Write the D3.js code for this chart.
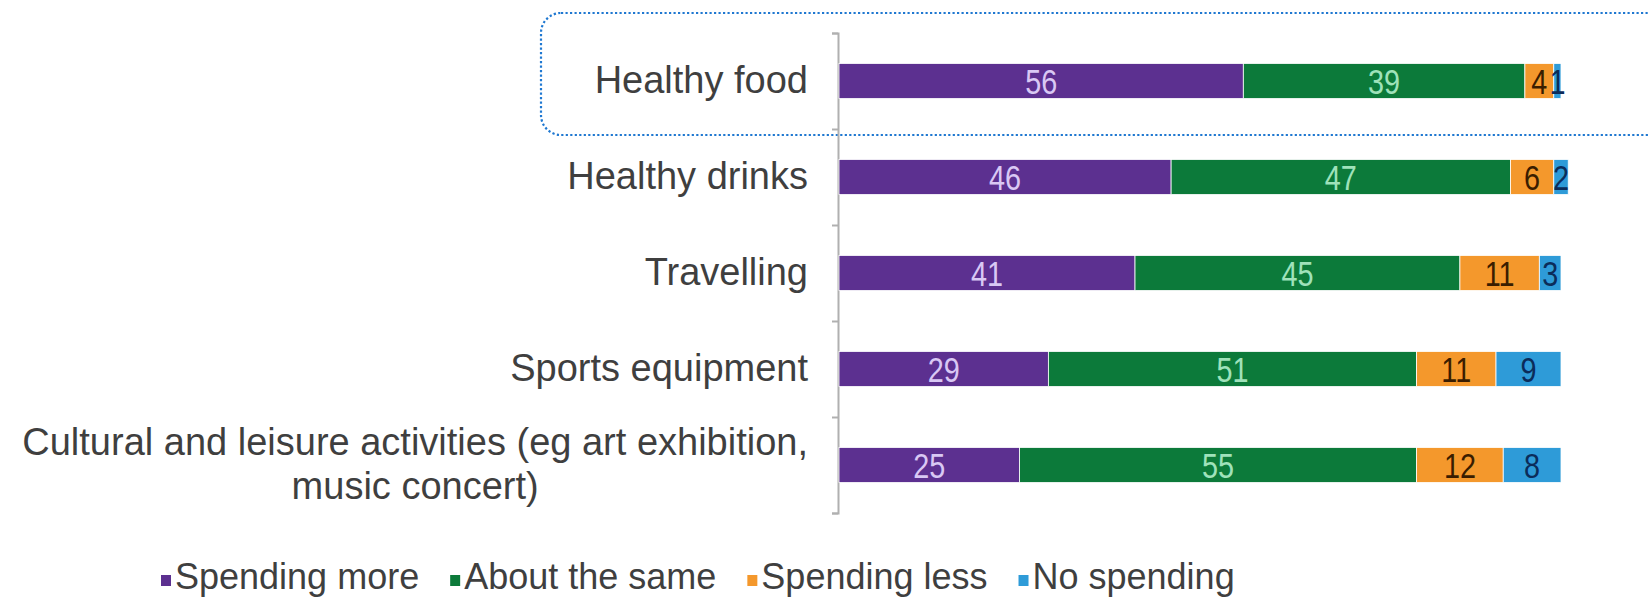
<!DOCTYPE html>
<html>
<head>
<meta charset="utf-8">
<script src="https://cdn.jsdelivr.net/npm/d3@7"></script>
<style>
    html, body { margin: 0; padding: 0; background: #fff; }
    svg { display: block; font-family: "Liberation Sans", Arial, sans-serif; }
    .axis path, .axis line { stroke: #b0b0b0; stroke-width: 2; }
    .cat-label, .legend text { fill: #3f3f3f; }
</style>
</head>
<body>
<svg id="chart" width="1650" height="597"></svg>
<script>
    // categories, top to bottom
    var categories = [
        ["Healthy food"],
        ["Healthy drinks"],
        ["Travelling"],
        ["Sports equipment"],
        ["Cultural and leisure activities (eg art exhibition,", "music concert)"]
    ];
    var seriesNames = ["Spending more", "About the same", "Spending less", "No spending"];
    var spendingMore = [56, 46, 41, 29, 25];
    var aboutSame = [39, 47, 45, 51, 55];
    var spendingLess = [4, 6, 11, 11, 12];
    var noSpending = [1, 2, 3, 9, 8];

    var barColors = ["#5c3090", "#0c7a3a", "#f4982c", "#2e9bd8"];
    var labelColors = ["#d9c8f4", "#9fe2ba", "#3a1d00", "#0b2c5a"];

    var svg = d3.select("#chart");

    var margin = { top: 33, left: 839, right: 89, bottom: 84 };
    var width = +svg.attr("width") - margin.left - margin.right;
    var plotBottom = +svg.attr("height") - margin.bottom;

    var keys = categories.map((c) => { return c.join(" "); });
    var rows = keys.map((k, i) => {
        return { key: k, lines: categories[i], values: [spendingMore[i], aboutSame[i], spendingLess[i], noSpending[i]] };
    });

    var yScale = d3.scaleBand().domain(keys).range([margin.top, plotBottom]);
    var xScale = d3.scaleLinear().domain([0, 100]).range([margin.left, margin.left + width]);
    var barHeight = yScale.bandwidth() * 0.365;

    // highlight box round the first row
    svg.append("rect")
        .attr("x", 541).attr("y", 13)
        .attr("width", 1130).attr("height", 122)
        .attr("rx", 20).attr("ry", 20)
        .attr("fill", "none")
        .attr("stroke", "#1f78d1")
        .attr("stroke-width", 2.2)
        .attr("stroke-dasharray", "2.2 2.3");

    // axis with ticks on the band edges
    var edgeScale = d3.scaleLinear().domain([0, keys.length]).range([margin.top, plotBottom]);
    svg.append("g")
        .attr("class", "axis")
        .attr("transform", "translate(" + (margin.left - 1) + ",0)")
        .call(d3.axisLeft(edgeScale).tickValues(d3.range(keys.length + 1)).tickSize(6).tickSizeOuter(6).tickFormat(""));

    var stack = d3.stack().keys([0, 1, 2, 3]).value((d, k) => { return d.values[k]; });
    var layers = stack(rows);

    var layer = svg.selectAll(".layer")
        .data(layers)
        .enter().append("g")
        .attr("class", "layer");

    layer.selectAll("rect")
        .data((s) => { return s.map((d) => { return { s: s.key, d: d }; }); })
        .enter().append("rect")
        .attr("x", (p) => { return xScale(p.d[0]); })
        .attr("y", (p) => { return yScale(p.d.data.key) + (yScale.bandwidth() - barHeight) / 2; })
        .attr("width", (p) => { return xScale(p.d[1]) - xScale(p.d[0]); })
        .attr("height", barHeight)
        .attr("fill", (p) => { return barColors[p.s]; })
        .attr("stroke", "#fff")
        .attr("stroke-width", 0.8);

    // value labels, squeezed a little like the original
    layer.selectAll("text")
        .data((s) => { return s.map((d) => { return { s: s.key, d: d }; }); })
        .enter().append("text")
        .attr("transform", (p) => {
            var x = (xScale(p.d[0]) + xScale(p.d[1])) / 2;
            var y = yScale(p.d.data.key) + yScale.bandwidth() / 2 + 13;
            return "translate(" + x + "," + y + ") scale(0.8,1)";
        })
        .attr("text-anchor", "middle")
        .attr("font-size", 36)
        .attr("fill", (p) => { return labelColors[p.s]; })
        .text((p) => { return p.d[1] - p.d[0]; });

    // category labels, multi-line ones centred as a block
    var labelRight = 808;
    var lineGap = 44;
    rows.forEach((r) => {
        var cy = yScale(r.key) + yScale.bandwidth() / 2;
        var t = svg.append("text")
            .attr("class", "cat-label")
            .attr("font-size", 38)
            .attr("text-anchor", "middle");
        var firstY = cy + 12 - (r.lines.length - 1) * lineGap / 2;
        var tspans = r.lines.map((line, i) => {
            return t.append("tspan").attr("y", firstY + i * lineGap).text(line);
        });
        var w = d3.max(tspans, (s) => { return s.node().getComputedTextLength(); });
        tspans.forEach((s) => { s.attr("x", labelRight - w / 2); });
    });

    // legend
    var legend = svg.append("g").attr("class", "legend");
    var lx = 161;
    var ly = 589;
    seriesNames.forEach((name, i) => {
        legend.append("rect")
            .attr("x", lx).attr("y", ly - 14)
            .attr("width", 10).attr("height", 11)
            .attr("fill", barColors[i]);
        var t = legend.append("text")
            .attr("x", lx + 14).attr("y", ly)
            .attr("font-size", 36)
            .text(name);
        lx += 14 + t.node().getComputedTextLength() + 31;
    });
</script>
</body>
</html>
